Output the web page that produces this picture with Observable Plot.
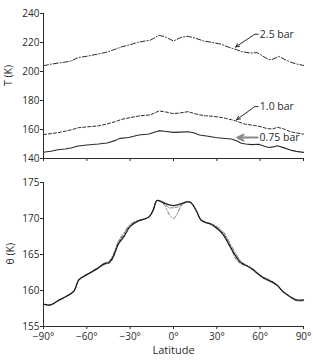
<!DOCTYPE html>
<html>
<head>
<meta charset="utf-8">
<script src="https://cdn.jsdelivr.net/npm/d3@7"></script>
<script src="https://cdn.jsdelivr.net/npm/@observablehq/plot@0.6"></script>
<style>
  html, body { margin: 0; padding: 0; background: #fff; }
  #chart svg { display: block; }
</style>
</head>
<body>
<div id="chart"></div>
<script>
// ---------- Top panel: temperature T (K) at three pressure levels ----------
const lat25 = [-90,-85,-80,-75,-71,-66,-60,-55,-50,-46,-40,-36,-30,-25,-20,-16,-10,-6,0,5,10,15,21,27,33,38,42,47,53,58,62,66,69,73,77,81,85,90];
const T25   = [204.0,205.0,205.8,206.5,207.2,209.6,210.5,211.5,212.5,213.4,215.5,217.0,218.5,220.0,221.0,221.6,225.0,224.0,221.0,223.5,224.3,223.0,221.0,220.0,218.8,216.8,215.6,213.8,212.7,213.0,210.5,208.2,208.5,210.4,208.3,206.5,205.2,204.2];

const lat10 = [-90,-80,-71,-66,-60,-52,-46,-40,-36,-30,-23,-16,-10,-5,0,5,10,17,22,27,32,36,40,43,49,53,57,61,65,69,72,76,81,85,90];
const T10   = [156.5,157.8,159.7,161.2,161.8,162.5,163.8,165.5,167.0,168.2,169.5,170.1,172.8,172.0,170.9,171.5,172.3,170.3,169.5,169.1,168.5,167.7,166.8,166.0,163.8,163.2,162.6,161.8,160.5,160.5,161.5,160.5,158.5,157.6,156.8];

const lat075 = [-90,-85,-80,-75,-71,-66,-60,-52,-46,-40,-37,-31,-24,-17,-10,-5,0,5,10,14,18,24,29,34,40,44,47,50,54,59,63,66,69,72,76,81,85,90];
const T075   = [144.3,145.0,146.0,146.5,147.2,148.6,149.3,150.0,150.7,152.5,153.9,154.5,156.2,156.9,159.2,158.6,158.0,158.2,158.5,157.8,156.2,155.3,154.5,154.0,153.4,152.0,150.5,150.0,149.6,149.8,148.5,147.6,148.0,148.8,147.5,145.8,144.9,144.2];

// annotation labels (data units)
const labelNames = ["2.5 bar", "1.0 bar", "0.75 bar"];
const labelLat   = [59.1, 59.1, 58.9];
const labelT     = [225.7, 175.8, 154.4];
const elbowLat   = [[58.9, 56.3], [58.9, 56.3], [58.2, 58.2]];
const tipLat     = [43.0, 43.7, 44.2];
const tipT       = [216.9, 166.8, 154.4];

// ---------- Bottom panel: potential temperature θ (K) ----------
const latTheta = [-90,-85,-79,-75,-69,-65.5,-60,-53,-48,-44.5,-42,-38,-34,-30,-25,-17,-14,-11.5,-9,-6,-3,0,3,6,9,11,13,16,19,23,26,29,32,35,37.5,40,43,46,48,51,55,58,62,65,69,72,75,78,81,85,90];
const thetaSolid = [158.1,158.0,158.7,159.1,159.9,161.5,162.2,163.0,163.7,163.9,164.6,166.5,167.6,168.9,169.6,170.2,171.2,172.5,172.4,172.1,171.9,171.8,171.9,172.1,172.3,172.3,172.0,171.0,169.8,169.4,169.2,168.8,168.3,167.6,166.7,165.8,164.8,164.0,163.7,163.4,162.9,162.4,161.8,161.5,161.1,160.7,160.0,159.5,159.1,158.7,158.7];
const thetaDash  = [158.1,158.0,158.7,159.1,159.9,161.5,162.2,163.0,163.6,163.8,164.4,166.7,167.9,169.0,169.6,170.2,171.2,172.5,172.4,172.0,171.5,171.5,171.6,171.9,172.3,172.3,172.0,171.0,169.8,169.4,169.2,168.8,168.4,167.8,166.9,165.9,164.4,163.8,163.6,163.4,162.9,162.4,161.7,161.4,161.1,160.7,160.0,159.5,159.1,158.6,158.6];
const thetaDashDot = [158.1,158.0,158.7,159.1,159.9,161.4,162.2,163.1,163.8,164.1,164.9,166.9,168.1,169.2,169.7,170.2,171.2,172.5,172.3,171.8,170.6,170.0,170.8,172.0,172.3,172.3,172.0,171.0,169.8,169.4,169.3,169.0,168.6,168.0,167.2,166.2,165.2,164.2,163.8,163.5,163.0,162.5,161.9,161.6,161.2,160.7,160.0,159.5,159.1,158.6,158.6];

// ticks
const xTicks = [-90,-60,-30,0,30,60,90];
const yTicksTop = [140,160,180,200,220,240];
const yTicksBottom = [155,160,165,170,175];

const fmtLat = d => (d < 0 ? "\u2212" : "") + Math.abs(d) + "\u00B0";
const rows = (xs, ys) => xs.map((x, i) => ({lat: x, v: ys[i]}));

const ink = "#2b2b2b";
const style = {fontFamily: "'Open Sans', sans-serif", fontSize: "10px", color: ink, background: "#fff"};

const labels = labelNames.map((n, i) => ({name: n, lat: labelLat[i], T: labelT[i],
  e1: elbowLat[i][0], e2: elbowLat[i][1], tlat: tipLat[i], tT: tipT[i]}));

const topPanel = Plot.plot({
  width: 313, height: 170,
  marginLeft: 43, marginRight: 10, marginTop: 13, marginBottom: 12,
  style,
  x: {domain: [-90, 90]},
  y: {domain: [140, 240]},
  marks: [
    Plot.axisY({ticks: yTicksTop, tickSize: 3, tickPadding: 1, label: null, stroke: ink}),
    Plot.axisX({ticks: xTicks, tickSize: 3, tickFormat: () => "", label: null, stroke: ink}),
    Plot.ruleX([-90], {stroke: ink}),
    Plot.ruleY([140], {stroke: ink}),
    Plot.line(rows(lat25, T25), {x: "lat", y: "v", stroke: ink, strokeWidth: 1, strokeDasharray: "5,2,1,2"}),
    Plot.line(rows(lat10, T10), {x: "lat", y: "v", stroke: ink, strokeWidth: 1, strokeDasharray: "3,2"}),
    Plot.line(rows(lat075, T075), {x: "lat", y: "v", stroke: ink, strokeWidth: 1.1}),
    Plot.link(labels.slice(0, 2), {x1: "e1", x2: "e2", y1: "T", y2: "T", stroke: ink, strokeWidth: 1}),
    Plot.arrow(labels.slice(0, 2), {x1: "e2", y1: "T", x2: "tlat", y2: "tT", stroke: ink, strokeWidth: 1, headLength: 6, headAngle: 50, bend: 0}),
    Plot.arrow(labels.slice(2), {x1: "e1", y1: "T", x2: "tlat", y2: "tT", stroke: "#8a8a8a", strokeWidth: 2, headLength: 6, headAngle: 50, bend: 0}),
    Plot.text(labels, {x: "lat", y: "T", text: "name", textAnchor: "start", dx: 1, fill: ink, fontSize: 10.5}),
    Plot.text(["T (K)"], {frameAnchor: "left", rotate: -90, dx: -35, fill: ink, fontSize: 10.5})
  ]
});

const bottomPanel = Plot.plot({
  width: 313, height: 191,
  marginLeft: 43, marginRight: 10, marginTop: 12, marginBottom: 35,
  style,
  x: {domain: [-90, 90]},
  y: {domain: [155, 175]},
  marks: [
    Plot.axisY({ticks: yTicksBottom, tickSize: 3, tickPadding: 1, label: null, stroke: ink}),
    Plot.axisX({ticks: xTicks, tickSize: 3, tickPadding: 3, tickFormat: fmtLat, label: null, stroke: ink}),
    Plot.ruleX([-90], {stroke: ink}),
    Plot.ruleY([155], {stroke: ink}),
    Plot.line(rows(latTheta, thetaDashDot), {x: "lat", y: "v", stroke: "#555", strokeWidth: 0.8, strokeDasharray: "4,2,1,2", curve: "catmull-rom"}),
    Plot.line(rows(latTheta, thetaDash), {x: "lat", y: "v", stroke: "#555", strokeWidth: 0.8, strokeDasharray: "3,2", curve: "catmull-rom"}),
    Plot.line(rows(latTheta, thetaSolid), {x: "lat", y: "v", stroke: "#1e1e1e", strokeWidth: 1.3, curve: "catmull-rom"}),
    Plot.text(["θ (K)"], {frameAnchor: "left", rotate: -90, dx: -33, dy: 10, fill: ink, fontSize: 10.5}),
    Plot.text(["Latitude"], {frameAnchor: "bottom", dy: 27, fill: ink, fontSize: 11})
  ]
});

document.getElementById("chart").append(topPanel, bottomPanel);
</script>
</body>
</html>
